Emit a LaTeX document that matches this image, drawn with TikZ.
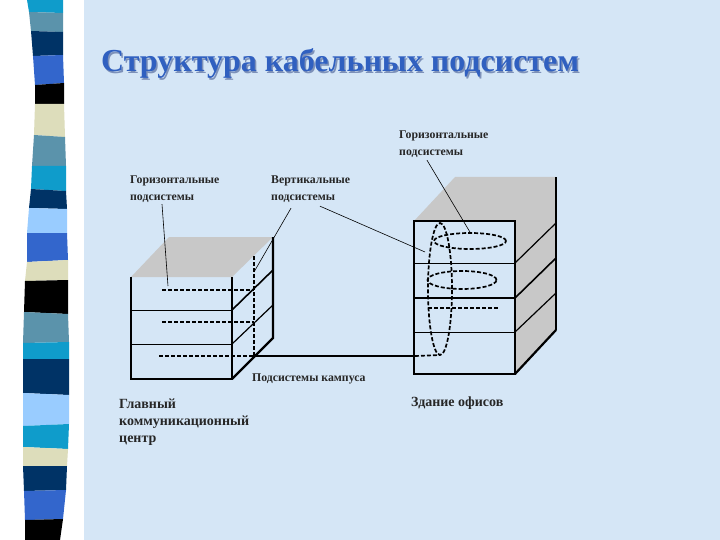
\documentclass[tikz,border=0pt]{standalone}
\usepackage{fontspec}
\setmainfont{Liberation Serif}
\usetikzlibrary{shapes.geometric, positioning}
\definecolor{pagebg}{RGB}{213, 230, 246}
\definecolor{topgray}{RGB}{200, 200, 200}
\definecolor{titleblue}{RGB}{48, 96, 192}
\definecolor{titleshade}{RGB}{125, 145, 185}
\definecolor{stripecyan}{RGB}{15, 156, 203}
\definecolor{stripesteel}{RGB}{91, 147, 171}
\definecolor{stripenavy}{RGB}{0, 51, 102}
\definecolor{stripeblue}{RGB}{51, 102, 204}
\definecolor{stripebeige}{RGB}{221, 221, 187}
\definecolor{stripesky}{RGB}{153, 204, 255}

\begin{document}
\begin{tikzpicture}[x=1pt, y=-1pt,
    caption/.style={font=\bfseries\fontsize{11.8}{17}\selectfont, align=left, inner sep=0pt, anchor=north west, text=black!85},
    bigcaption/.style={caption, font=\bfseries\fontsize{14}{17}\selectfont},
    heading/.style={font=\bfseries\fontsize{32}{34}\selectfont, inner sep=0pt, anchor=west},
    dashline/.style={dashed, dash pattern=on 4pt off 2pt, line width=1.7pt},
    ring/.style={ellipse, draw, dashline, inner sep=0pt},
    leader/.style={line width=0.6pt}]
    \useasboundingbox (0,0) rectangle (720,540);
    \fill[white] (0,0) rectangle (720,540);
    \fill[pagebg] (84,0) rectangle (720,540);

    % Stripes
    \foreach \col/\la/\ra/\lb/\rb/\xa/\xb/\xc/\xd in {
        stripecyan/0/0/12/13/27/63/29/63,
        stripesteel/12/13/31/32/29/63/31/63,
        stripenavy/31/32/56/55/31/63/33/63,
        stripeblue/56/55/85/83/33/63/35/64,
        black/85/83/104/104/35/64/35/64,
        stripebeige/104/104/135/137/35/64/34/65,
        stripesteel/135/137/166/166/34/65/32/66,
        stripecyan/166/166/189/191/32/66/31/66,
        stripenavy/189/191/208/209/31/66/29/67,
        stripesky/208/209/233/233/29/67/27/67,
        stripeblue/233/233/262/260/27/67/27/68,
        stripebeige/262/260/281/280/27/68/25/68,
        black/281/280/312/314/25/68/24/68,
        stripesteel/312/314/343/342/24/68/23/69,
        stripecyan/343/342/359/359/23/69/23/69,
        stripenavy/359/359/393/395/23/69/23/69,
        stripesky/393/395/426/424/23/69/23/69,
        stripecyan/426/424/447/449/23/69/23/68,
        stripebeige/447/449/466/466/23/68/23/67,
        stripenavy/466/466/491/490/23/67/24/66,
        stripeblue/491/490/520/519/24/66/25/63,
        black/520/519/540/540/25/63/25/60}
        \fill[\col] (\xa,\la) -- (\xb,\ra) -- (\xd,\rb) -- (\xc,\lb) -- cycle;

    % Title
    \node[heading, text=titleshade] (titleshadow) at (102.5,65.5) {Структура кабельных подсистем};
    \node[heading, text=titleblue] (title) at (101,64) {Структура кабельных подсистем};

    % Main centre
    \fill[topgray] (131,277) -- (169,237) -- (273,237) -- (232,277) -- cycle;
    \draw[line width=2pt] (131,277) -- (131,379) -- (232,379) -- (232,277);
    \draw[line width=1pt] (131,310) -- (232,310);
    \draw[line width=1pt] (131,344) -- (232,344);
    \draw[line width=1.6pt] (232,310) -- (273,270);
    \draw[line width=1.2pt] (232,344) -- (273,305);
    \draw[line width=2.4pt] (232,379) -- (273,338) -- (273,237);
    \draw[dashline] (254,256) -- (254,356);
    \draw[dashline] (162,290) -- (254,290);
    \draw[dashline] (162,322) -- (254,322);
    \draw[dashline] (159,356) -- (254,356);

    % Office building
    \fill[topgray] (414,221) -- (455,177) -- (556,177) -- (556,330) -- (515,374) -- (515,221) -- cycle;
    \draw[line width=2pt] (414,221) rectangle (515,374);
    \draw[line width=0.8pt] (414,263) -- (515,263);
    \draw[line width=1.6pt] (414,298) -- (515,298);
    \draw[line width=0.8pt] (414,332) -- (515,332);
    \draw[line width=1.2pt] (515,263) -- (556,223);
    \draw[line width=1.6pt] (515,298) -- (556,258);
    \draw[line width=1.2pt] (515,332) -- (556,293);
    \draw[line width=2.2pt] (515,374) -- (556,330);
    \draw[line width=1.4pt] (556,330) -- (556,177);
    \node[ring, minimum width=24pt, minimum height=132pt] (riser) at (440,289) {};
    \node[ring, minimum width=72pt, minimum height=16pt] (ringtop) at (470,241) {};
    \node[ring, minimum width=69pt, minimum height=18pt] (ringmid) at (462,280) {};
    \draw[dashline] (428,308) -- (498,308);

    % Campus link
    \coordinate (hub) at (254,356);
    \coordinate (entry) at (415,356);
    \draw[line width=1.6pt] (hub) -- (entry);
    \draw[dashline] (entry) -- (440,355);

    % Labels
    \node[caption] (hzleft) at (130,176) {Горизонтальные\\подсистемы};
    \node[caption] (vert) at (271,176) {Вертикальные\\подсистемы};
    \node[caption] (hzright) at (399,131) {Горизонтальные\\подсистемы};
    \node[caption] (campus) at (252,374) {Подсистемы кампуса};
    \node[bigcaption] (main) at (119,399) {Главный\\коммуникационный\\центр};
    \node[bigcaption] (office) at (411,397) {Здание офисов};

    % Leaders
    \coordinate (hzend) at (168,286);
    \coordinate (vertend) at (254,272);
    \coordinate (officeend) at (425,252);
    \coordinate (hzstart) at ([xshift=32pt,yshift=-1pt]hzleft.south west);
    \coordinate (vertstart) at ([xshift=20pt,yshift=-5pt]vert.south west);
    \coordinate (officestart) at ([xshift=49pt,yshift=-3pt]vert.south west);
    \coordinate (ringstart) at ([xshift=28pt,yshift=-2pt]hzright.south west);
    \draw[leader] (hzstart) -- (hzend);
    \draw[leader] (vertstart) -- (vertend);
    \draw[leader] (officestart) -- (officeend);
    \draw[leader] (ringstart) -- (ringtop.north);
\end{tikzpicture}
\end{document}
